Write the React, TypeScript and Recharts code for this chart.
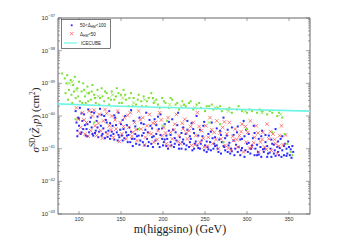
import React from 'react';
import { ScatterChart, Scatter, XAxis, YAxis } from 'recharts';

// [mass (GeV), log10 sigma (cm^2)]
const blueDots: [number, number][] = [
  [96, -39.85], [97, -40.2], [98, -40.45], [99, -40.05], [100, -40.3], [101, -39.75], [102, -40.55], [104, -40.15],
  [105, -40.4], [106, -39.95], [108, -40.6], [110, -40.25], [111, -39.8], [112, -40.5], [114, -40.05], [115, -40.35],
  [117, -40.6], [118, -39.9], [120, -40.45], [121, -40.15], [123, -40.65], [125, -39.78], [126, -40.3], [128, -40.55],
  [130, -40.0], [131, -40.68], [133, -40.2], [135, -40.45], [136, -39.85], [138, -40.6], [140, -40.3], [142, -40.72],
  [143, -40.05], [145, -40.5], [147, -39.9], [148, -40.65], [150, -40.25], [152, -40.75], [153, -40.4], [155, -40.0],
  [157, -40.6], [158, -40.8], [160, -40.35], [162, -39.82], [163, -40.7], [165, -40.15], [167, -40.55], [168, -40.85],
  [170, -40.4], [172, -40.05], [173, -40.75], [175, -40.6], [177, -40.25], [178, -40.9], [180, -39.9], [182, -40.5],
  [183, -40.8], [185, -40.3], [187, -40.65], [188, -40.95], [190, -40.1], [192, -40.55], [194, -40.85], [195, -40.4],
  [197, -39.95], [199, -40.7], [200, -40.9], [202, -40.25], [204, -40.6], [206, -41.0], [207, -40.45], [209, -40.8],
  [211, -40.1], [213, -40.95], [215, -40.5], [216, -40.75], [218, -39.9], [220, -40.65], [222, -41.0], [224, -40.35],
  [225, -40.85], [227, -40.55], [229, -40.15], [231, -40.95], [233, -40.7], [235, -41.05], [236, -40.4], [238, -40.85],
  [240, -40.0], [242, -40.6], [244, -41.0], [246, -40.75], [248, -40.3], [250, -40.9], [252, -41.1], [254, -40.55],
  [256, -40.8], [258, -40.2], [260, -41.0], [262, -40.65], [264, -40.9], [266, -41.1], [268, -40.45], [270, -40.8],
  [272, -40.05], [274, -41.05], [276, -40.6], [278, -40.9], [280, -41.15], [282, -40.35], [284, -40.75], [286, -41.0],
  [288, -40.5], [290, -40.95], [292, -41.2], [294, -40.7], [296, -40.15], [298, -41.05], [300, -40.85], [302, -40.55],
  [304, -41.15], [306, -40.9], [308, -40.3], [310, -41.0], [312, -41.2], [314, -40.7], [316, -40.95], [318, -40.45],
  [320, -41.1], [322, -40.8], [324, -41.25], [326, -40.6], [328, -41.0], [330, -40.85], [332, -41.15], [334, -40.4],
  [336, -40.95], [338, -41.2], [340, -40.7], [342, -41.05], [345, -40.85], [348, -41.15], [350, -40.95], [353, -41.28],
  [103, -40.5], [109, -40.4], [116, -40.55], [122, -40.35], [127, -40.6], [132, -40.5], [137, -40.7], [141, -40.55],
  [146, -40.75], [151, -40.6], [156, -40.5], [161, -40.8], [166, -40.7], [171, -40.6], [176, -40.8], [181, -40.7],
  [186, -40.85], [191, -40.75], [196, -40.95], [201, -40.8], [205, -40.7], [210, -40.9], [214, -40.85], [219, -41.0],
  [223, -40.8], [228, -40.9], [232, -40.8], [237, -41.0], [241, -40.9], [245, -40.85], [249, -41.05], [253, -40.95],
  [257, -41.05], [261, -40.85], [265, -41.0], [269, -41.15], [273, -40.95], [277, -41.1], [281, -41.0], [285, -41.2],
  [289, -41.1], [293, -41.05], [297, -41.25], [301, -41.1], [305, -41.0], [309, -41.2], [313, -41.1], [317, -41.25],
  [321, -41.0], [325, -41.15], [329, -41.25], [333, -41.05], [337, -41.1], [341, -41.25], [344, -41.2], [347, -41.0],
  [351, -41.2], [355, -41.1],
  [98, -40.62], [100, -40.08], [103, -39.92], [107, -40.28], [110, -40.62], [113, -40.18], [115, -39.88], [119, -40.52],
  [122, -40.02], [124, -40.48], [127, -39.96], [129, -40.38], [132, -40.12], [134, -40.64], [137, -40.22], [139, -40.48],
  [142, -39.98], [144, -40.28], [147, -40.58], [149, -40.42], [152, -40.12], [154, -40.68], [157, -40.28], [159, -40.58],
  [162, -40.48], [164, -40.92], [167, -40.32], [169, -40.62], [172, -40.88], [174, -40.22], [177, -40.52], [179, -40.42],
  [182, -40.92], [184, -40.12], [187, -40.38], [189, -40.62], [192, -40.28], [194, -40.02], [197, -40.58], [199, -40.38],
  [202, -40.72], [204, -40.92], [207, -40.18], [209, -40.58], [212, -40.42], [214, -40.68], [217, -40.28], [219, -40.88],
  [222, -40.52], [224, -40.72], [227, -41.02], [229, -40.42], [232, -40.62], [234, -40.22], [237, -40.52], [239, -40.78],
  [242, -40.98], [244, -40.42], [247, -40.62], [249, -40.18], [252, -40.78], [254, -41.02], [257, -40.48], [259, -40.68],
  [262, -40.92], [264, -40.38], [267, -40.72], [269, -40.58], [272, -40.92], [274, -40.68], [277, -40.42], [279, -40.82],
  [282, -41.08], [284, -40.58], [287, -40.88], [289, -40.32], [292, -40.72], [294, -40.98], [297, -40.62], [299, -40.42],
  [302, -40.82], [304, -41.0], [307, -40.68], [309, -40.52], [312, -40.88], [314, -41.18], [317, -40.62], [319, -41.02],
  [322, -40.58], [324, -40.92], [327, -41.12], [329, -40.72], [332, -40.88], [334, -41.22], [337, -40.78], [339, -40.98],
  [342, -40.62], [344, -40.92], [347, -41.22], [349, -40.78], [352, -41.02], [354, -40.92],
];

const redCrosses: [number, number][] = [
  [97, -39.75], [99, -40.1], [102, -40.35], [104, -39.9], [107, -40.55], [109, -40.2], [112, -39.85], [114, -40.45],
  [116, -40.0], [119, -40.3], [121, -40.6], [124, -39.95], [126, -40.45], [129, -40.15], [131, -39.8], [134, -40.55],
  [136, -40.3], [139, -40.0], [141, -40.65], [144, -40.4], [146, -39.85], [149, -40.2], [151, -40.55], [154, -40.05],
  [156, -40.7], [159, -40.35], [161, -39.9], [164, -40.5], [166, -40.2], [169, -40.75], [171, -39.85], [174, -40.4],
  [176, -40.05], [179, -40.65], [181, -40.3], [184, -39.95], [186, -40.55], [189, -40.8], [191, -40.2], [194, -40.45],
  [196, -39.9], [199, -40.6], [201, -40.35], [204, -40.85], [206, -40.05], [209, -40.5], [211, -40.7], [214, -40.25],
  [216, -39.95], [219, -40.6], [221, -40.85], [224, -40.4], [226, -40.1], [229, -40.7], [231, -40.45], [234, -40.9],
  [236, -40.2], [239, -40.6], [241, -39.9], [244, -40.8], [246, -40.45], [249, -40.95], [251, -40.3], [254, -40.65],
  [256, -40.05], [259, -40.85], [261, -40.5], [264, -40.15], [266, -41.0], [269, -40.7], [271, -40.35], [274, -40.9],
  [276, -40.55], [279, -40.2], [281, -41.05], [284, -40.75], [286, -40.4], [289, -40.95], [291, -40.6], [294, -40.25],
  [296, -41.1], [299, -40.8], [301, -40.5], [304, -40.15], [306, -40.95], [309, -40.65], [311, -40.3], [314, -41.1],
  [316, -40.8], [319, -40.5], [321, -40.95], [324, -40.25], [326, -40.7], [329, -41.05], [331, -40.55], [334, -40.85],
  [336, -41.15], [339, -40.6], [341, -40.3],
  [101, -40.52], [106, -40.12], [111, -40.62], [118, -39.82], [123, -40.22], [128, -40.68], [133, -39.92], [138, -40.42],
  [143, -40.12], [148, -40.78], [153, -40.32], [158, -39.98], [163, -40.62], [168, -40.42], [173, -40.12], [178, -40.88],
  [183, -40.52], [188, -40.22], [193, -40.72], [198, -40.12], [203, -40.52], [208, -40.92], [213, -40.42], [218, -40.78],
  [223, -40.22], [228, -40.52], [233, -40.32], [238, -40.88], [243, -40.32], [248, -40.68], [253, -40.92], [258, -40.42],
  [263, -40.72], [268, -40.52], [273, -40.18], [278, -40.98], [283, -40.62], [288, -40.72], [293, -40.48], [298, -40.32],
  [303, -40.98], [308, -40.82], [313, -40.52], [318, -40.72], [323, -41.02], [328, -40.48], [333, -40.72], [338, -40.92],
  [343, -40.88], [346, -40.58],
];

const greenDots: [number, number][] = [
  [80, -38.7], [83, -38.85], [85, -39.0], [86, -38.75], [88, -39.2], [90, -38.9], [91, -39.35], [93, -39.05],
  [95, -38.8], [96, -39.45], [98, -39.15], [100, -38.95], [101, -39.55], [103, -39.25], [105, -39.0], [107, -39.4],
  [108, -39.6], [110, -39.1], [112, -39.3], [114, -39.5], [116, -39.05], [118, -39.35], [120, -39.6], [122, -39.2],
  [125, -39.45], [127, -39.15], [130, -39.55], [133, -39.3], [136, -39.65], [139, -39.25], [142, -39.5], [145, -39.15],
  [148, -39.6], [150, -39.35], [153, -39.2], [156, -39.5], [159, -39.7], [162, -39.3], [165, -39.45], [168, -39.65],
  [171, -39.35], [174, -39.55], [177, -39.4], [180, -39.7], [183, -39.45], [186, -39.3], [189, -39.6], [192, -39.5],
  [196, -39.75], [199, -39.45], [203, -39.6], [207, -39.75], [211, -39.5], [215, -39.65], [219, -39.8], [223, -39.55],
  [227, -39.7], [231, -39.6], [236, -39.8], [240, -39.65], [245, -39.75], [250, -39.85], [255, -39.7], [260, -39.8],
  [265, -39.75], [270, -39.85], [276, -39.8], [282, -39.9], [288, -39.8], [294, -39.85], [300, -39.9], [306, -39.85],
  [312, -39.9], [318, -39.85], [324, -39.95], [330, -39.9], [336, -40.0], [342, -40.05],
  [96, -40.1], [118, -40.2], [171, -40.4], [205, -40.15], [268, -40.25], [272, -40.8], [300, -40.4], [330, -40.5],
  [345, -40.55], [348, -40.85], [352, -41.1], [354, -41.2],
  [84, -39.3], [87, -39.5], [92, -39.6], [94, -39.25], [99, -39.4], [104, -39.6], [106, -39.2], [111, -39.55],
  [115, -39.25], [119, -39.45], [124, -39.65], [128, -39.4], [131, -39.25], [135, -39.45], [138, -39.5], [144, -39.4],
  [147, -39.3], [151, -39.6], [155, -39.35], [160, -39.45], [164, -39.7], [170, -39.5], [175, -39.7], [181, -39.55],
  [188, -39.45], [194, -39.65], [201, -39.55], [209, -39.45], [217, -39.6], [225, -39.65], [233, -39.55], [243, -39.6],
  [252, -39.7], [258, -39.65], [268, -39.7], [279, -39.75], [290, -39.7], [303, -39.8], [315, -39.8], [327, -39.85],
  [338, -39.9],
];

const greenCrosses: [number, number][] = [
  [88, -39.0], [92, -38.95], [97, -39.2], [110, -39.3], [123, -39.4], [140, -39.35], [152, -39.45], [165, -39.6],
  [178, -39.5], [190, -39.55], [208, -39.65], [222, -39.7], [238, -39.75], [262, -39.75], [278, -39.85], [298, -39.85],
  [318, -39.9], [340, -39.95], [200, -40.3], [255, -40.2],
];

const iceMass = [75, 150, 250, 375];
const iceExp = [-39.63, -39.7, -39.77, -39.85];

const massTicks = [100, 150, 200, 250, 300, 350];
const decades = [-43, -42, -41, -40, -39, -38, -37];

const toPoints = (arr: [number, number][]) => arr.map(([m, e]) => ({ m, s: Math.pow(10, e) }));
const icePoints = iceMass.map((m, i) => ({ m, s: Math.pow(10, iceExp[i]) }));

const sigmaTicks: number[] = [];
decades.forEach((d) => {
  sigmaTicks.push(Math.pow(10, d));
  if (d < -37) for (let k = 2; k <= 9; k++) sigmaTicks.push(k * Math.pow(10, d));
});

const AXIS = '#666';
const TICKFONT = '"Liberation Sans", Arial, sans-serif';
const SERIF = '"Liberation Serif", "DejaVu Serif", serif';

const isMajor = (v: number) => {
  const lg = Math.log10(v);
  return Math.abs(lg - Math.round(lg)) < 1e-6;
};

const LeftTick = (props: any) => {
  const { x, y, payload } = props;
  const major = isMajor(payload.value);
  const e = Math.round(Math.log10(payload.value));
  return (
    <g>
      <line x1={x} x2={x + (major ? 4 : 2)} y1={y} y2={y} stroke={AXIS} strokeWidth={0.6} />
      {major && (
        <text x={x - 3} y={y + 2} textAnchor="end" fontSize={6} fill="#333" fontFamily={TICKFONT}>
          10<tspan dy={-2.6} fontSize={4}>{'\u2212' + Math.abs(e)}</tspan>
        </text>
      )}
    </g>
  );
};

const RightTick = (props: any) => {
  const { x, y, payload } = props;
  const major = isMajor(payload.value);
  return <line x1={x} x2={x - (major ? 4 : 2)} y1={y} y2={y} stroke={AXIS} strokeWidth={0.6} />;
};

const BottomTick = (props: any) => {
  const { x, y, payload } = props;
  return (
    <g>
      <line x1={x} x2={x} y1={y} y2={y - 3} stroke={AXIS} strokeWidth={0.6} />
      <text x={x} y={y + 7} textAnchor="middle" fontSize={5.5} fill="#333" fontFamily={TICKFONT}>
        {payload.value}
      </text>
    </g>
  );
};

const TopTick = (props: any) => {
  const { x, y } = props;
  return <line x1={x} x2={x} y1={y} y2={y + 3} stroke={AXIS} strokeWidth={0.6} />;
};

const dot = (color: string) => (props: any) => (
  <rect x={props.cx - 1} y={props.cy - 1} width={2} height={2} fill={color} />
);

const cross = (color: string) => (props: any) => {
  const { cx, cy } = props;
  const r = 1.8;
  return (
    <path
      d={`M${cx - r},${cy - r}L${cx + r},${cy + r}M${cx - r},${cy + r}L${cx + r},${cy - r}`}
      stroke={color}
      strokeWidth={0.7}
      fill="none"
    />
  );
};

const BLUE = '#2a2aff';
const RED = '#ff4a4a';
const GREEN = '#7ae034';
const CYAN = '#6ef5e4';

const App: React.FC = () => {
  return (
    <div style={{ position: 'absolute', left: 0, top: 0, width: 343, height: 242, background: '#fff' }}>
      <ScatterChart width={343} height={242} margin={{ top: 17, right: 32, bottom: 27, left: 57 }}>
        <XAxis
          xAxisId="bottom"
          type="number"
          dataKey="m"
          domain={[75, 375]}
          ticks={massTicks}
          interval={0}
          height={1}
          tickSize={0}
          tickMargin={0}
          tickLine={false}
          axisLine={{ stroke: AXIS }}
          tick={<BottomTick />}
          allowDataOverflow
        />
        <XAxis
          xAxisId="top"
          orientation="top"
          type="number"
          dataKey="m"
          domain={[75, 375]}
          ticks={massTicks}
          interval={0}
          height={1}
          tickSize={0}
          tickMargin={0}
          tickLine={false}
          axisLine={{ stroke: AXIS }}
          tick={<TopTick />}
          allowDataOverflow
        />
        <YAxis
          yAxisId="left"
          type="number"
          dataKey="s"
          scale="log"
          domain={[1e-43, 1e-37]}
          ticks={sigmaTicks}
          interval={0}
          width={1}
          tickSize={0}
          tickMargin={0}
          tickLine={false}
          axisLine={{ stroke: AXIS }}
          tick={<LeftTick />}
          allowDataOverflow
        />
        <YAxis
          yAxisId="right"
          orientation="right"
          type="number"
          dataKey="s"
          scale="log"
          domain={[1e-43, 1e-37]}
          ticks={sigmaTicks}
          interval={0}
          width={1}
          tickSize={0}
          tickMargin={0}
          tickLine={false}
          axisLine={{ stroke: AXIS }}
          tick={<RightTick />}
          allowDataOverflow
        />
        <Scatter xAxisId="bottom" yAxisId="left" data={toPoints(blueDots)} shape={dot(BLUE)} isAnimationActive={false} />
        <Scatter xAxisId="bottom" yAxisId="left" data={toPoints(redCrosses)} shape={cross(RED)} isAnimationActive={false} />
        <Scatter xAxisId="bottom" yAxisId="left" data={toPoints(greenDots)} shape={dot(GREEN)} isAnimationActive={false} />
        <Scatter xAxisId="bottom" yAxisId="left" data={toPoints(greenCrosses)} shape={cross(GREEN)} isAnimationActive={false} />
        <Scatter
          xAxisId="bottom"
          yAxisId="left"
          data={icePoints}
          line={{ stroke: CYAN, strokeWidth: 1.6 }}
          shape={() => <g />}
          isAnimationActive={false}
        />
      </ScatterChart>
      <svg width={343} height={242} style={{ position: 'absolute', left: 0, top: 0, pointerEvents: 'none' }}>
        <rect x={61.5} y={19.5} width={49} height={29} fill="#fff" stroke="#444" strokeWidth={0.7} />
        <rect x={70.8} y={24.4} width={1.8} height={1.8} fill={BLUE} />
        <text x={80} y={27} fontSize={4.5} fill="#222" fontFamily={TICKFONT}>
          50&lt;Δ<tspan dy={1.3} fontSize={3.3}>HM</tspan><tspan dy={-1.3}>&lt;100</tspan>
        </text>
        <path d="M70,32L73.4,35.4M70,35.4L73.4,32" stroke={RED} strokeWidth={0.7} />
        <text x={80} y={35.5} fontSize={4.5} fill="#222" fontFamily={TICKFONT}>
          Δ<tspan dy={1.3} fontSize={3.3}>HM</tspan><tspan dy={-1.3}>&lt;50</tspan>
        </text>
        <line x1={64} x2={77} y1={43} y2={43} stroke={CYAN} strokeWidth={1.2} />
        <text x={81} y={44.6} fontSize={4.5} fill="#222" fontFamily={TICKFONT}>ICECUBE</text>

        <text x={180} y={233} textAnchor="middle" fontSize={12} fill="#222" fontFamily={SERIF}>
          m(higgsino)  (GeV)
        </text>
        <text
          transform="translate(39,120) rotate(-90)"
          textAnchor="middle"
          fontSize={11}
          fill="#222"
          fontFamily={SERIF}
        >
          <tspan fontStyle="italic">σ</tspan>
          <tspan dy={-4} fontSize={7.5}>SD</tspan>
          <tspan dy={4}>(</tspan>
          <tspan fontStyle="italic">Z̃</tspan>
          <tspan dy={2.5} fontSize={7.5}>1</tspan>
          <tspan dy={-2.5} fontStyle="italic">p</tspan>
          <tspan>)  (cm</tspan>
          <tspan dy={-4} fontSize={7.5}>2</tspan>
          <tspan dy={4}>)</tspan>
        </text>
      </svg>
    </div>
  );
};

export default App;
